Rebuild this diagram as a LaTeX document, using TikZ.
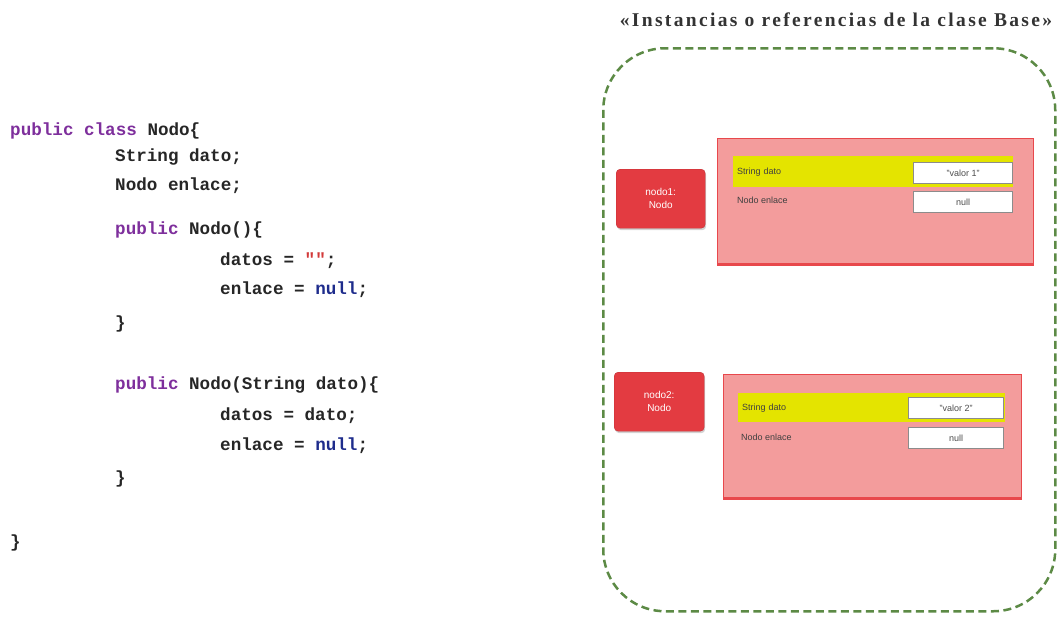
\documentclass[tikz,border=0pt]{standalone}
\usepackage{fontspec}
\setmainfont{Liberation Serif}
\setsansfont{Liberation Sans}
\setmonofont{Liberation Mono}
\newfontfamily\titlefont[LetterSpace=12]{Liberation Serif}
\usepackage{xcolor}
\usetikzlibrary{positioning,shadows}

\definecolor{kwpurple}{HTML}{7E2F9C}
\definecolor{nullblue}{HTML}{1E2C8C}
\definecolor{strred}{HTML}{D23A3A}
\definecolor{codegray}{HTML}{262626}
\definecolor{boxred}{HTML}{E33B41}
\definecolor{fieldpink}{HTML}{F39C9C}
\definecolor{edgered}{HTML}{E8484C}
\definecolor{fieldyellow}{HTML}{E4E400}
\definecolor{dashgreen}{HTML}{5C8A45}

\begin{document}
\begin{tikzpicture}[
    x=1pt, y=-1pt,
    code/.style={anchor=base west, inner sep=0pt, text=codegray, font=\ttfamily\bfseries\fontsize{17.6}{20}\selectfont},
    refbox/.style={rectangle, rounded corners=4pt, draw=boxred!85!black, fill=boxred, text=white, align=center,
        font=\sffamily\fontsize{10}{13}\selectfont, anchor=north west,
        drop shadow={opacity=0.35, shadow xshift=1pt, shadow yshift=-2pt}},
    objbox/.style={rectangle, draw=edgered, fill=fieldpink, line width=1pt, anchor=north west},
    yellowbar/.style={rectangle, fill=fieldyellow, anchor=north west, inner xsep=4pt, inner ysep=0pt, align=left,
        font=\sffamily\fontsize{9}{10}\selectfont, text=black!75},
    fieldname/.style={anchor=west, inner sep=0pt, font=\sffamily\fontsize{9}{10}\selectfont, text=black!75},
    valbox/.style={rectangle, draw=black!45, fill=white, line width=1pt, anchor=north west, inner sep=0pt,
        minimum height=21pt, font=\sffamily\fontsize{9}{10}\selectfont, text=black!70}
]
\useasboundingbox (0,0) rectangle (1060,624);

% Java code
\node[code] (c1) at (10,135) {\textcolor{kwpurple}{public class} Nodo\{};
\node[code] (c2) at (115,161) {String dato;};
\node[code] (c3) at (115,190) {Nodo enlace;};
\node[code] (c4) at (115,234) {\textcolor{kwpurple}{public} Nodo()\{};
\node[code] (c5) at (220,265) {datos = \textcolor{strred}{""};};
\node[code] (c6) at (220,294) {enlace = \textcolor{nullblue}{null};};
\node[code] (c7) at (115,328) {\}};
\node[code] (c8) at (115,389) {\textcolor{kwpurple}{public} Nodo(String dato)\{};
\node[code] (c9) at (220,420) {datos = dato;};
\node[code] (c10) at (220,450) {enlace = \textcolor{nullblue}{null};};
\node[code] (c11) at (115,483) {\}};
\node[code] (c12) at (10,547) {\}};

% Frame of instances
\node[rectangle, draw=dashgreen, dash pattern=on 8pt off 4.5pt, line width=2.5pt, rounded corners=62pt,
    anchor=north west, minimum width=452pt, minimum height=563pt] (marco) at (602,47) {};
\node[font=\titlefont\bfseries\fontsize{19.5}{22}\selectfont, text=black!80] (titulo) at (836,20)
    {«Instancias o referencias de la clase Base»};

% First instance
\node[refbox, minimum width=89pt, minimum height=59pt] (nodo1) at (616,169) {nodo1:\\Nodo};
\node[objbox, minimum width=316pt, minimum height=125pt] (obj1) at (717,138) {};
\draw[edgered, line width=3pt] (obj1.south west) -- (obj1.south east);
\node[yellowbar, text width=272pt, minimum height=31pt] (dato1) at (733,156) {String dato};
\node[fieldname] (enl1) at (737,200) {Nodo enlace};
\node[valbox, minimum width=99pt] (val1) at (913,162) {"valor 1"};
\node[valbox, minimum width=99pt] (null1) at (913,191) {null};

% Second instance
\node[refbox, minimum width=90pt, minimum height=59pt] (nodo2) at (614,372) {nodo2:\\Nodo};
\node[objbox, minimum width=298pt, minimum height=123pt] (obj2) at (723,374) {};
\draw[edgered, line width=3pt] (obj2.south west) -- (obj2.south east);
\node[yellowbar, text width=259pt, minimum height=29pt] (dato2) at (738,393) {String dato};
\node[fieldname] (enl2) at (741,437) {Nodo enlace};
\node[valbox, minimum width=95pt] (val2) at (908,397) {"valor 2"};
\node[valbox, minimum width=95pt] (null2) at (908,427) {null};

\end{tikzpicture}
\end{document}
